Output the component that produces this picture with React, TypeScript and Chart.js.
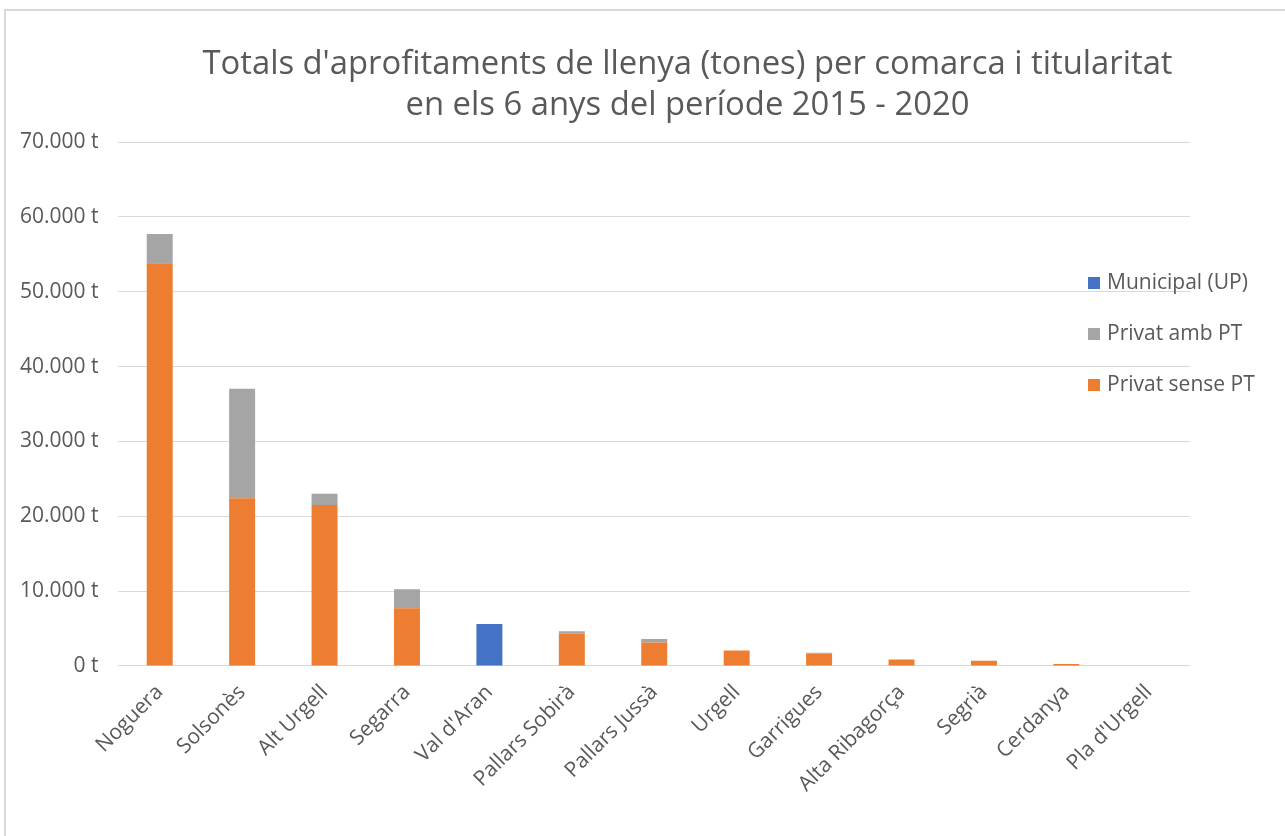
import React, { useEffect, useRef } from "react";
import { Chart, registerables } from "chart.js";

Chart.register(...registerables);

const categories = [
  "Noguera",
  "Solsonès",
  "Alt Urgell",
  "Segarra",
  "Val d'Aran",
  "Pallars Sobirà",
  "Pallars Jussà",
  "Urgell",
  "Garrigues",
  "Alta Ribagorça",
  "Segrià",
  "Cerdanya",
  "Pla d'Urgell",
];

const municipalUP = [0, 0, 0, 0, 5600, 0, 0, 0, 0, 0, 0, 0, 0];
const privatAmbPT = [3900, 14650, 1500, 2550, 0, 300, 450, 0, 100, 0, 0, 0, 0];
const privatSensePT = [53800, 22400, 21500, 7700, 0, 4350, 3150, 2050, 1650, 880, 700, 250, 0];

const titleLines = [
  "Totals d'aprofitaments de llenya (tones) per comarca i titularitat",
  "en els 6 anys del període 2015 - 2020",
];

const FONT = "'Open Sans', sans-serif";
const TEXT = "#595959";

const legendPlugin = {
  id: "customLegend",
  afterDraw(chart: any) {
    const ctx = chart.ctx;
    const items = [...chart.data.datasets].reverse();
    ctx.save();
    ctx.font = `21px ${FONT}`;
    ctx.textBaseline = "middle";
    ctx.textAlign = "left";
    items.forEach((ds: any, i: number) => {
      const y = 283 + i * 51;
      ctx.fillStyle = ds.backgroundColor;
      ctx.fillRect(1088, y - 6, 12, 12);
      ctx.fillStyle = TEXT;
      ctx.fillText(ds.label, 1107, y);
    });
    ctx.restore();
  },
};

export default function App() {
  const ref = useRef<HTMLCanvasElement>(null);

  useEffect(() => {
    const chart = new Chart(ref.current!, {
      type: "bar",
      data: {
        labels: categories,
        datasets: [
          { label: "Privat sense PT", data: privatSensePT, backgroundColor: "#ED7D31" },
          { label: "Privat amb PT", data: privatAmbPT, backgroundColor: "#A5A5A5" },
          { label: "Municipal (UP)", data: municipalUP, backgroundColor: "#4472C4" },
        ],
      },
      options: {
        animation: false,
        responsive: false,
        maintainAspectRatio: false,
        layout: { padding: { left: 0, right: 95, top: 142, bottom: 33 } },
        datasets: { bar: { barPercentage: 0.315, categoryPercentage: 1 } },
        plugins: {
          legend: { display: false },
          tooltip: { enabled: false },
          title: { display: false },
        },
        scales: {
          x: {
            stacked: true,
            grid: { display: false },
            border: { display: false },
            ticks: {
              color: TEXT,
              font: { family: FONT, size: 21 },
              maxRotation: 45,
              minRotation: 45,
              padding: 6,
            },
          },
          y: {
            stacked: true,
            min: 0,
            max: 70000,
            border: { display: false },
            grid: { color: "#d9d9d9", lineWidth: 1, drawTicks: false },
            ticks: {
              stepSize: 10000,
              color: TEXT,
              font: { family: FONT, size: 21 },
              padding: 20,
              callback: (v: any) =>
                Number(v).toLocaleString("de-DE").replace(/,/g, ".") + " t",
            },
          },
        },
      },
      plugins: [legendPlugin],
    });
    return () => chart.destroy();
  }, []);

  return (
    <div style={{ position: "fixed", left: 0, top: 0, width: 1285, height: 836, background: "#fff", overflow: "hidden" }}>
      <div
        style={{
          position: "absolute",
          left: 4,
          top: 9,
          width: 1300,
          height: 900,
          borderLeft: "2px solid #d9d9d9",
          borderTop: "2px solid #d9d9d9",
        }}
      />
      <canvas ref={ref} width={1285} height={836} style={{ position: "absolute", left: 0, top: 0 }} />
      <div
        style={{
          position: "absolute",
          left: 90,
          width: 1195,
          top: 41,
          textAlign: "center",
          fontFamily: FONT,
          fontSize: 32.8,
          lineHeight: "41px",
          color: TEXT,
        }}
      >
        {titleLines.map((l) => (
          <div key={l}>{l}</div>
        ))}
      </div>
    </div>
  );
}
